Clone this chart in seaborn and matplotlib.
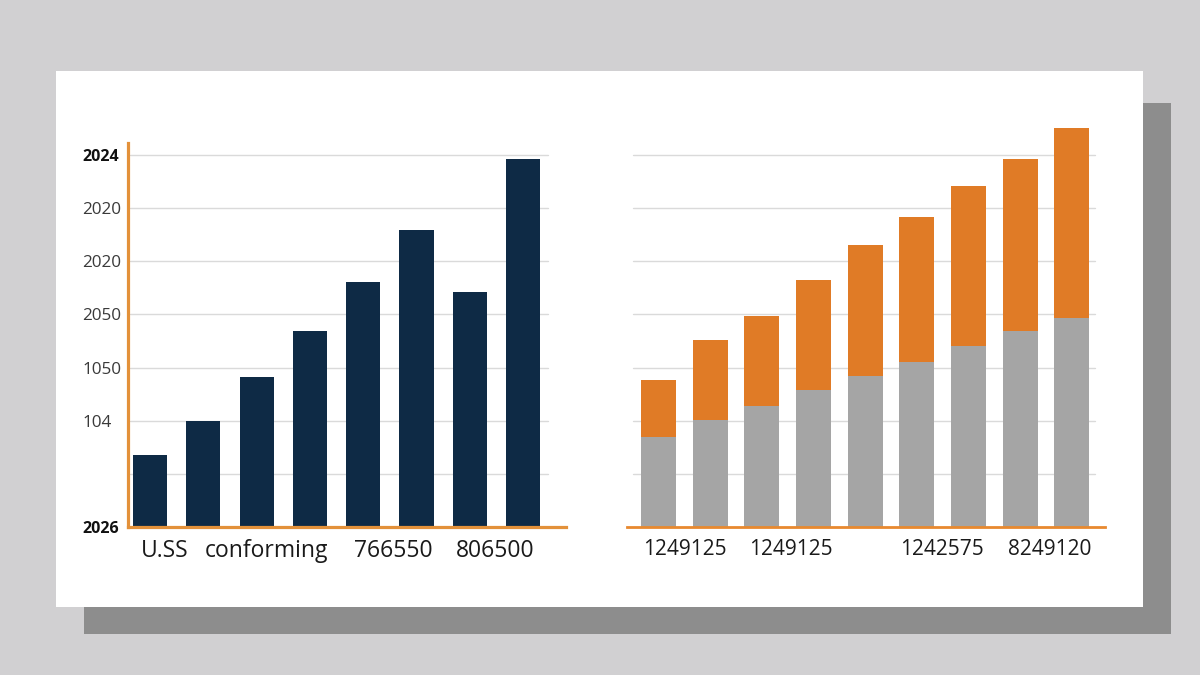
import matplotlib
matplotlib.use("Agg")
import matplotlib.pyplot as plt
import seaborn as sns
import pandas as pd
from matplotlib.patches import Rectangle

# left panel: one series of navy bars
left_bars = [1.35, 2.0, 2.82, 3.69, 4.61, 5.59, 4.42, 6.93]
left_yticklabels = ["2026", "", "104", "1050", "2050", "2020", "2020", "2024"]
left_xlabels = ["U.SS", "conforming", "766550", "806500"]

# right panel: stacked gray + orange bars
right_gray = [1.69, 2.02, 2.27, 2.57, 2.84, 3.10, 3.40, 3.68, 3.93]
right_orange = [1.08, 1.50, 1.70, 2.08, 2.46, 2.74, 3.02, 3.25, 3.57]
right_xlabels = ["1249125", "1249125", "1242575", "8249120"]

# where the x labels sit, in bar units
left_xlabel_pos = [0.28, 2.19, 4.56, 6.48]
right_xlabel_pos = [0.51, 2.56, 5.49, 7.57]

NAVY = "#0e2a45"
ORANGE = "#e07b26"
GRAY = "#a5a5a5"
SPINE = "#e3913a"
GRID = "#dadada"

sns.set_theme(style="white")
plt.rcParams["font.family"] = ["Open Sans", "DejaVu Sans"]

fig = plt.figure(figsize=(12, 6.75), dpi=100, facecolor="#d1d0d2")

# card with drop shadow (behind the axes)
fig.patches.append(Rectangle((0.070, 0.0607), 0.906, 0.7867, transform=fig.transFigure,
                             facecolor="#8d8d8d", edgecolor="none", zorder=-2))
fig.patches.append(Rectangle((0.0467, 0.1007), 0.906, 0.794, transform=fig.transFigure,
                             facecolor="white", edgecolor="none", zorder=-1))

# ---- left chart
ax1 = fig.add_axes([0.1067, 0.2193, 0.365, 0.569])
ax1.patch.set_alpha(0)
df1 = pd.DataFrame({"bar": list(range(len(left_bars))), "value": left_bars})
sns.barplot(data=df1, x="bar", y="value", color=NAVY, saturation=1, width=0.64,
            linewidth=0, ax=ax1, zorder=2)
for y in range(1, 8):
    ax1.axhline(y, xmin=0.005, xmax=0.959, color=GRID, lw=1, zorder=0.5)
ax1.set_xlim(-0.413, 7.805)
ax1.set_ylim(0, 7.226)
ax1.set_xlabel("")
ax1.set_ylabel("")
ax1.set_yticks(range(8))
ax1.set_yticklabels(left_yticklabels, fontsize=12.3, color="#3a3a3a")
for i, lbl in enumerate(ax1.get_yticklabels()):
    lbl.set_ha("left")
    if i in (0, 7):
        lbl.set_fontweight("bold")
        lbl.set_color("#111111")
        lbl.set_fontsize(11.5)
ax1.tick_params(axis="y", pad=33, length=0)
ax1.set_xticks(left_xlabel_pos)
ax1.set_xticklabels(left_xlabels, fontsize=16.5, color="#1a1a1a")
ax1.tick_params(axis="x", pad=9, length=0)
for s in ["top", "right"]:
    ax1.spines[s].set_visible(False)
for s in ["left", "bottom"]:
    ax1.spines[s].set_color(SPINE)
    ax1.spines[s].set_linewidth(2.3)
    ax1.spines[s].set_zorder(5)

# ---- right chart
ax2 = fig.add_axes([0.5225, 0.2193, 0.398, 0.603])
ax2.patch.set_alpha(0)
totals = [g + o for g, o in zip(right_gray, right_orange)]
df2 = pd.DataFrame({"bar": list(range(len(right_gray))), "gray": right_gray, "total": totals})
sns.barplot(data=df2, x="bar", y="total", color=ORANGE, saturation=1, width=0.68,
            linewidth=0, ax=ax2, zorder=2)
sns.barplot(data=df2, x="bar", y="gray", color=GRAY, saturation=1, width=0.68,
            linewidth=0, ax=ax2, zorder=2.2)
for y in range(1, 8):
    ax2.axhline(y, xmin=0.0126, xmax=0.979, color=GRID, lw=1, zorder=0.5)
ax2.set_xlim(-0.609, 8.636)
ax2.set_ylim(0, 7.66)
ax2.set_xlabel("")
ax2.set_ylabel("")
ax2.set_yticks([])
ax2.set_xticks(right_xlabel_pos)
ax2.set_xticklabels(right_xlabels, fontsize=15, color="#1a1a1a")
ax2.tick_params(axis="x", pad=9, length=0)
for s in ["top", "right", "left"]:
    ax2.spines[s].set_visible(False)
ax2.spines["bottom"].set_color("#e8892f")
ax2.spines["bottom"].set_linewidth(2.0)
ax2.spines["bottom"].set_zorder(5)

fig.savefig("out.png", dpi=100, facecolor=fig.get_facecolor())
